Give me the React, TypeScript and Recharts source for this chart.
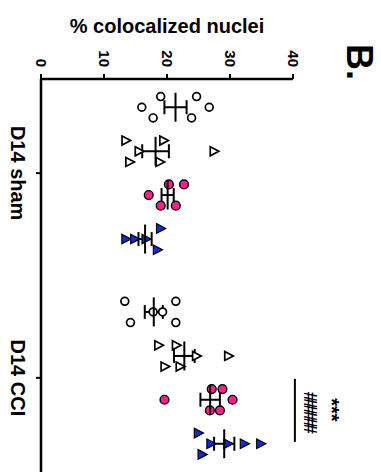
import React from "react";
import {
  ScatterChart,
  Scatter,
  XAxis,
  YAxis,
  ErrorBar,
  ReferenceLine,
  ReferenceDot,
} from "recharts";

// ---------- data ----------
const categories = ["D14 sham", "D14 CCI"];
const valueTicks = [0, 10, 20, 30, 40];

// % colocalized nuclei, one value per animal; "row" = beeswarm row of each dot
const openCircleSham = [19.0, 24.7, 16.0, 17.8, 23.9, 26.7];
const openCircleShamRow = [-1, -1, 0, 1, 1, 0];
const openCircleCCI = [13.3, 21.4, 14.2, 21.4, 17.8, 19.3];
const openCircleCCIRow = [-1, -1, 1, 1, 0, 0];

const openTriangleSham = [13.5, 19.5, 15.6, 27.5, 14.1, 18.9];
const openTriangleShamRow = [-1, -1, 0, 0, 1, 1];
const openTriangleCCI = [18.7, 21.5, 24.7, 29.8, 19.7, 22.1];
const openTriangleCCIRow = [-1, -1, 0, 0, 1, 1];

const pinkCircleSham = [20.3, 22.7, 17.1, 19.0, 21.4];
const pinkCircleShamRow = [-1, -1, 0, 1, 1];
const pinkCircleCCI = [27.1, 28.8, 19.6, 30.4, 26.8, 28.4];
const pinkCircleCCIRow = [-1, -1, 0, 0, 1, 1];

const blueTriangleSham = [13.5, 14.9, 16.7, 19.0, 18.5];
const blueTriangleShamRow = [0, 0, 0, -1, 1];
const blueTriangleCCI = [25.0, 25.6, 27.0, 29.7, 32.3, 34.9];
const blueTriangleCCIRow = [-1, 1, 0, 0, 0, 0];

const significanceMarks = ["######", "***"];

// ---------- layout constants ----------
const SERIES_OFFSET = [-0.322, -0.107, 0.107, 0.322];
const JITTER = 0.052;
const FONT = "'Liberation Sans', Arial, Helvetica, sans-serif";
const PINK = "#ff1f8e";
const BLUE = "#0f2be0";

type Pt = { pos: number; value: number };
type MeanPt = { pos: number; value: number; sem: number };

function buildPoints(k: number, groups: [number[], number[]][]): Pt[] {
  const out: Pt[] = [];
  groups.forEach(([vals, rows], g) => {
    vals.forEach((v, i) => {
      out.push({ pos: g + 1 + SERIES_OFFSET[k] + rows[i] * JITTER, value: v });
    });
  });
  return out;
}

function stats(vals: number[]) {
  const n = vals.length;
  const mean = vals.reduce((a, b) => a + b, 0) / n;
  const sd = Math.sqrt(vals.reduce((a, b) => a + (b - mean) * (b - mean), 0) / (n - 1));
  return { mean, sem: sd / Math.sqrt(n) };
}

const seriesGroups: [number[], number[]][][] = [
  [
    [openCircleSham, openCircleShamRow],
    [openCircleCCI, openCircleCCIRow],
  ],
  [
    [openTriangleSham, openTriangleShamRow],
    [openTriangleCCI, openTriangleCCIRow],
  ],
  [
    [pinkCircleSham, pinkCircleShamRow],
    [pinkCircleCCI, pinkCircleCCIRow],
  ],
  [
    [blueTriangleSham, blueTriangleShamRow],
    [blueTriangleCCI, blueTriangleCCIRow],
  ],
];

const pointData = seriesGroups.map((groups, k) => buildPoints(k, groups));
const meanData: MeanPt[] = [];
seriesGroups.forEach((groups, k) => {
  groups.forEach(([vals], g) => {
    const s = stats(vals);
    meanData.push({ pos: g + 1 + SERIES_OFFSET[k], value: s.mean, sem: s.sem });
  });
});

// ---------- shapes ----------
const OpenCircle = (p: any) => (
  <circle cx={p.cx} cy={p.cy} r={3.9} fill="#fff" stroke="#000" strokeWidth={1.7} />
);
const OpenTriangle = (p: any) => (
  <polygon
    points={`${p.cx - 4},${p.cy - 4.5} ${p.cx + 4.6},${p.cy} ${p.cx - 4},${p.cy + 4.5}`}
    fill="#fff"
    stroke="#000"
    strokeWidth={1.7}
  />
);
const PinkCircle = (p: any) => (
  <circle cx={p.cx} cy={p.cy} r={4.4} fill={PINK} stroke="#000" strokeWidth={1.4} />
);
const BlueTriangle = (p: any) => (
  <polygon
    points={`${p.cx - 4.2},${p.cy - 4.8} ${p.cx + 5},${p.cy} ${p.cx - 4.2},${p.cy + 4.8}`}
    fill={BLUE}
    stroke="#000"
    strokeWidth={1.2}
  />
);
const MeanLine = (p: any) => (
  <line x1={p.cx} x2={p.cx} y1={p.cy - 14.5} y2={p.cy + 14.5} stroke="#000" strokeWidth={2} />
);
const shapes = [OpenCircle, OpenTriangle, PinkCircle, BlueTriangle];

// ---------- ticks ----------
const ValueTick = (p: any) => (
  <text
    x={p.x}
    y={p.y}
    transform={`rotate(90 ${p.x} ${p.y})`}
    textAnchor="end"
    dy={5.4}
    fontSize={15}
    fontWeight="bold"
    fontFamily={FONT}
    fill="#000"
  >
    {p.payload.value}
  </text>
);

const CategoryTick = (p: any) => (
  <text
    x={p.x}
    y={p.y}
    transform={`rotate(90 ${p.x} ${p.y})`}
    textAnchor="middle"
    dy={14.3}
    fontSize={20}
    fontWeight="bold"
    fontFamily={FONT}
    fill="#000"
  >
    {categories[Math.round(p.payload.value) - 1]}
  </text>
);

const AxisTitle = (p: any) => {
  const vb = p.viewBox || { x: 41, y: 0, width: 252 };
  return (
    <text
      x={vb.x + vb.width / 2}
      y={vb.y + 33}
      textAnchor="middle"
      fontSize={20}
      fontWeight="bold"
      fontFamily={FONT}
      fill="#000"
    >
      % colocalized nuclei
    </text>
  );
};

const rotatedMark = (text: string, size: number, dy: number, spacing: number) => (p: any) => (
  <text
    x={p.cx}
    y={p.cy}
    transform={`rotate(90 ${p.cx} ${p.cy})`}
    textAnchor="middle"
    dy={dy}
    fontSize={size}
    fontWeight="bold"
    fontFamily={FONT}
    letterSpacing={spacing}
    fill="#000"
  >
    {text}
  </text>
);

export default function App() {
  return (
    <div style={{ position: "absolute", left: 0, top: 0, width: 381, height: 472, background: "#fff" }}>
      <ScatterChart width={381} height={472} margin={{ top: 0, right: 88, bottom: 0, left: 0 }}>
        <XAxis
          type="number"
          dataKey="value"
          orientation="top"
          domain={[0, 40]}
          ticks={valueTicks}
          allowDataOverflow
          height={79}
          tickSize={5}
          tickMargin={7}
          axisLine={{ stroke: "#000", strokeWidth: 2.5 }}
          tickLine={{ stroke: "#000", strokeWidth: 2 }}
          tick={<ValueTick />}
          label={{ content: <AxisTitle /> }}
        />
        <YAxis
          type="number"
          dataKey="pos"
          domain={[0.54, 2.46]}
          ticks={[1, 2]}
          reversed
          allowDataOverflow
          width={41}
          tickSize={5}
          tickMargin={11}
          axisLine={{ stroke: "#000", strokeWidth: 2.5 }}
          tickLine={{ stroke: "#000", strokeWidth: 2 }}
          tick={<CategoryTick />}
        />
        {pointData.map((d, k) => (
          <Scatter key={k} data={d} shape={shapes[k]} isAnimationActive={false} />
        ))}
        <Scatter data={meanData} shape={MeanLine} isAnimationActive={false}>
          <ErrorBar dataKey="sem" direction="x" width={7} stroke="#000" strokeWidth={2} />
        </Scatter>
        <ReferenceLine
          segment={[
            { x: 40.3, y: 2.005 },
            { x: 40.3, y: 2.313 },
          ]}
          stroke="#000"
          strokeWidth={2}
          ifOverflow="visible"
        />
        <ReferenceDot
          x={42.8}
          y={2.162}
          r={0}
          ifOverflow="visible"
          shape={rotatedMark(significanceMarks[0], 18, 6.3, -3.6)}
        />
        <ReferenceDot
          x={46.9}
          y={2.157}
          r={0}
          ifOverflow="visible"
          shape={rotatedMark(significanceMarks[1], 20, 11.5, 0)}
        />
      </ScatterChart>
      <svg
        width={381}
        height={472}
        style={{ position: "absolute", left: 0, top: 0, pointerEvents: "none" }}
      >
        <text
          x={347}
          y={44}
          transform="rotate(90 347 44)"
          fontSize={36}
          fontWeight="bold"
          fontFamily={FONT}
          fill="#000"
        >
          B.
        </text>
      </svg>
    </div>
  );
}
